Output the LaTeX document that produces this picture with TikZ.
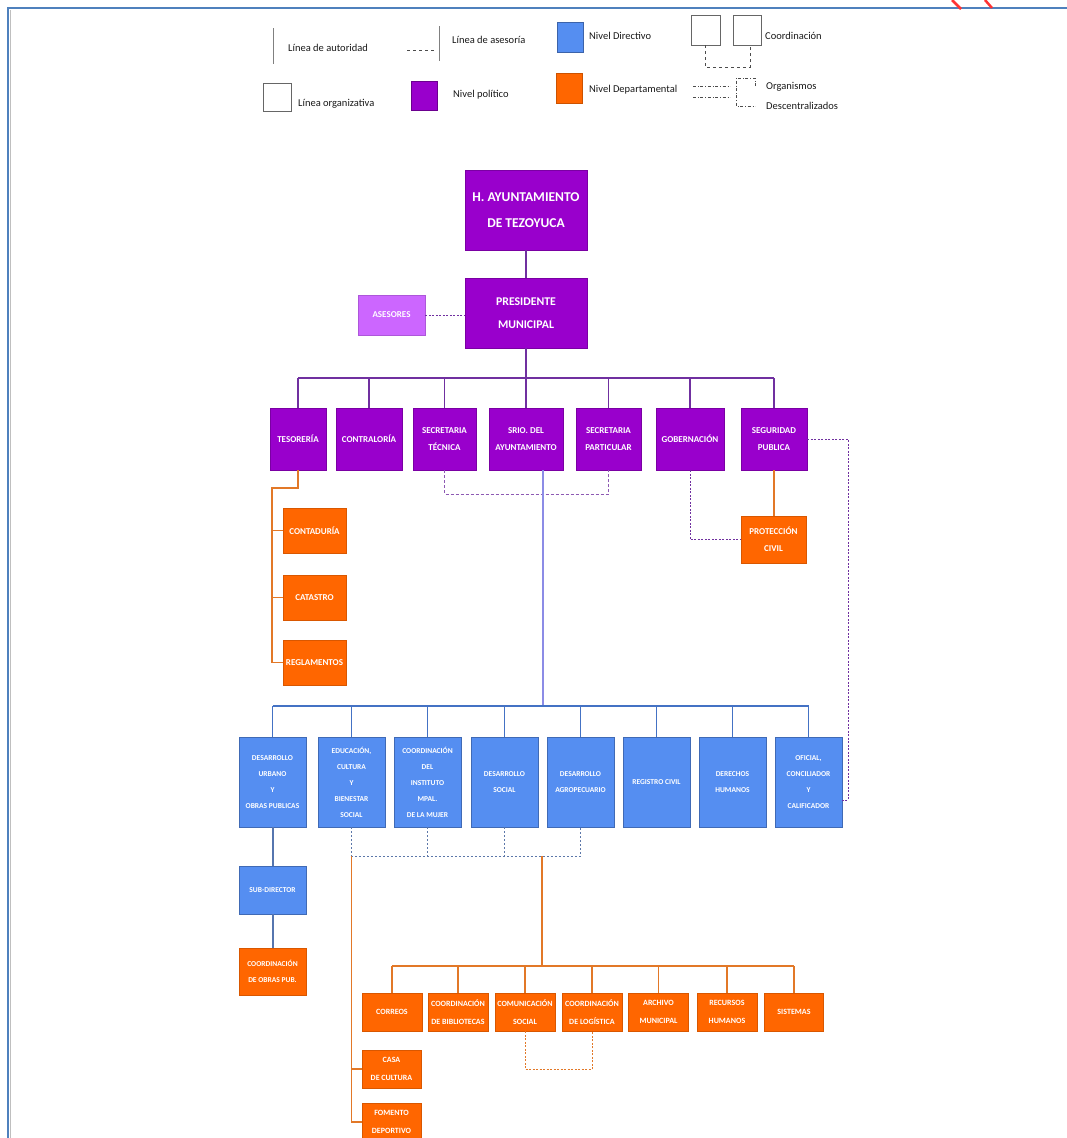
\documentclass[tikz,border=0pt]{standalone}
\usepackage{fontspec}
\setmainfont{Carlito}
\usetikzlibrary{calc}

\definecolor{polcol}{RGB}{153,0,204}
\definecolor{asecol}{RGB}{204,102,255}
\definecolor{dircol}{RGB}{85,142,241}
\definecolor{depcol}{RGB}{255,102,0}
\definecolor{polline}{RGB}{112,48,160}
\definecolor{srioline}{RGB}{140,140,230}
\definecolor{dirline}{RGB}{68,114,196}
\definecolor{depline}{RGB}{226,120,40}
\definecolor{marco}{RGB}{79,129,189}

\begin{document}
\begin{tikzpicture}[x=1pt, y=-1pt,
box/.style={text=white, align=center, inner sep=1pt, line width=.6pt},
polbox/.style={box, fill=polcol, draw=polcol!80!black},
asebox/.style={box, fill=asecol, draw=asecol!85!black},
dirbox/.style={box, fill=dircol, draw=dircol!75!black},
depbox/.style={box, fill=depcol, draw=depcol!85!black},
autpol/.style={draw=polline, line width=1.2pt},
autdir/.style={draw=dirline, line width=1.2pt},
autdep/.style={draw=depline, line width=1.2pt},
asepol/.style={draw=polline, line width=.9pt, dash pattern=on 2pt off 1.5pt},
coordpol/.style={draw=polline!80, line width=1pt, dash pattern=on 3pt off 2pt},
coorddir/.style={draw=dirline!60!gray, line width=.8pt, dash pattern=on 2pt off 2pt},
coorddep/.style={draw=depline, line width=.8pt, dash pattern=on 2pt off 1.5pt},
leyenda/.style={anchor=west, inner sep=0pt, font=\fontsize{10.5}{12}\selectfont, text=black!90}]

\useasboundingbox (0,0) rectangle (1066,1138);

%%%%%% MARCO %%%%%%%%%%

\draw[black!25, line width=.8pt] (10.8,10) -- (10.8,1140);
\draw[marco, line width=2.5pt] (8,1140) -- (8,8) -- (1068,8);
\draw[red!80!white, line width=2.5pt] (952,0) -- (961,9);
\draw[red!80!white, line width=2.5pt] (985,0) -- (992,8);

%%%%%% LEYENDA %%%%%%%%%%

\draw[gray, line width=.8pt] (273,28) -- (273,64);
\node[leyenda] (lautor) at (288,48) {Línea de autoridad};

\draw[black!70, dashed] (407,50) -- (435,50);
\draw[gray, line width=.8pt] (439,26) -- (439,61);
\node[leyenda] (lases) at (452,40) {Línea de asesoría};

\draw[fill=dircol, draw=dircol!70!black] (557,22) rectangle (583,52);
\node[leyenda] (ldir) at (589,36) {Nivel Directivo};

\draw[black!60, line width=.8pt] (691,15) rectangle (720,45);
\draw[black!60, line width=.8pt] (733,15) rectangle (761,45);
\draw[black!70, dashed] (705,45) -- (705,67) -- (750,67) -- (750,45);
\node[leyenda] (lcoord) at (765,36) {Coordinación};

\draw[black!60, line width=.8pt] (263,83) rectangle (291,111);
\node[leyenda] (lorgv) at (298,104) {Línea organizativa};

\draw[fill=polcol, draw=polcol!70!black] (411,81) rectangle (437,110);
\node[leyenda] (lpol) at (453,95) {Nivel político};

\draw[fill=depcol, draw=depcol!80!black] (556,73) rectangle (582,103);
\node[leyenda] (ldep) at (589,90) {Nivel Departamental};

\draw[black!70, dash dot] (693,86) -- (730,86);
\draw[black!70, dash dot] (693,97) -- (730,97);
\draw[black!70, dash dot] (755,86) -- (755,78) -- (736,78) -- (736,106) -- (755,106);
\node[leyenda] (lorg1) at (766,87) {Organismos};
\node[leyenda] (lorg2) at (766,106) {Descentralizados};

%%%%%% NIVEL POLITICO %%%%%%%%%%

\node[polbox, minimum width=122pt, minimum height=80pt, font=\bfseries\fontsize{13.5}{26}\selectfont] (ayto) at (526,210) {H. AYUNTAMIENTO\\DE TEZOYUCA};
\node[polbox, minimum width=122pt, minimum height=70pt, font=\bfseries\fontsize{11.8}{23}\selectfont] (pres) at (526,313) {PRESIDENTE\\MUNICIPAL};
\node[asebox, minimum width=67pt, minimum height=40pt, font=\bfseries\fontsize{9}{10}\selectfont] (ases) at (391.5,315) {ASESORES};

\draw[autpol] (ayto.south) -- (pres.north);
\draw[asepol] (ases.east) -- (ases.east -| pres.west);

\begin{scope}[every node/.append style={minimum height=62pt, font=\bfseries\fontsize{9}{17}\selectfont}]
\node[polbox, minimum width=56pt] (teso) at (298,439) {TESORERÍA};
\node[polbox, minimum width=66pt] (contra) at (369,439) {CONTRALORÍA};
\node[polbox, minimum width=63pt] (stec) at (444.5,439) {SECRETARIA\\TÉCNICA};
\node[polbox, minimum width=74pt] (srio) at (526,439) {SRIO. DEL\\AYUNTAMIENTO};
\node[polbox, minimum width=65pt] (spart) at (608.5,439) {SECRETARIA\\PARTICULAR};
\node[polbox, minimum width=68pt] (gob) at (690,439) {GOBERNACIÓN};
\node[polbox, minimum width=66pt] (segp) at (774,439) {SEGURIDAD\\PUBLICA};
\end{scope}

\coordinate (polbus) at (526,378);
\draw[autpol] (pres.south) -- (polbus);
\draw[autpol, line width=2pt] (teso.north |- polbus) -- (segp.north |- polbus);
\foreach \n in {teso,contra,stec,srio,spart,gob,segp}{\draw[autpol] (\n.north) -- (\n.north |- polbus);}

\draw[coordpol] (stec.south) -- ++(0,24) -| (spart.south);

%%%%%% DEPARTAMENTOS DE TESORERIA Y SEGURIDAD %%%%%%%%%%

\begin{scope}[every node/.append style={minimum width=63pt, minimum height=45pt, font=\bfseries\fontsize{9}{17}\selectfont}]
\node[depbox] (conta) at (314.5,530.5) {CONTADURÍA};
\node[depbox] (cata) at (314.5,597.5) {CATASTRO};
\node[depbox] (regl) at (314.5,662.5) {REGLAMENTOS};
\node[depbox, minimum width=65pt, minimum height=47pt] (proc) at (773.5,539.5) {PROTECCIÓN\\CIVIL};
\end{scope}

\coordinate (tesoL) at (272,488);
\draw[autdep] (teso.south) |- (tesoL) |- (regl.west);
\foreach \n in {conta,cata}{\draw[autdep] (tesoL |- \n.west) -- (\n.west);}

\draw[autdep] (segp.south) -- (segp.south |- proc.north);
\draw[asepol] (gob.south) |- (proc.west);

%%%%%% NIVEL DIRECTIVO %%%%%%%%%%

\begin{scope}[every node/.append style={minimum width=67pt, minimum height=90pt, font=\bfseries\fontsize{7.5}{16}\selectfont}]
\node[dirbox] (dup) at (272.5,782) {DESARROLLO\\URBANO\\Y\\OBRAS PUBLICAS};
\node[dirbox] (ecb) at (351.5,782) {EDUCACIÓN,\\CULTURA\\Y\\BIENESTAR\\SOCIAL};
\node[dirbox] (imm) at (427.5,782) {COORDINACIÓN\\DEL\\INSTITUTO\\MPAL.\\DE LA MUJER};
\node[dirbox] (dso) at (504.5,782) {DESARROLLO\\SOCIAL};
\node[dirbox] (dag) at (580.5,782) {DESARROLLO\\AGROPECUARIO};
\node[dirbox] (rci) at (656.5,782) {REGISTRO CIVIL};
\node[dirbox] (dhu) at (732.5,782) {DERECHOS\\HUMANOS};
\node[dirbox] (occ) at (808.5,782) {OFICIAL,\\CONCILIADOR\\Y\\CALIFICADOR};
\end{scope}

\coordinate (dirbus) at (543,706);
\draw[draw=srioline, line width=1.2pt] (srio.south -| dirbus) -- (dirbus);
\draw[autdir, line width=2.2pt] (dup.north |- dirbus) -- (occ.north |- dirbus);
\foreach \n in {dup,ecb,imm,dso,dag,rci,dhu,occ}{\draw[autdir] (\n.north) -- (\n.north |- dirbus);}

\coordinate (segR) at (848,800);
\draw[asepol] (segp.east) -| (segR) -- (segR -| occ.east);

\node[dirbox, minimum width=67pt, minimum height=48pt, font=\bfseries\fontsize{7.5}{16}\selectfont] (subd) at (272.5,890) {SUB-DIRECTOR};
\node[depbox, minimum width=67pt, minimum height=47pt, font=\bfseries\fontsize{7.5}{16}\selectfont] (cop) at (272.5,971.5) {COORDINACIÓN\\DE OBRAS PUB.};

\draw[autdir, draw=dirline!70!gray, line width=2pt] (dup.south) -- (subd.north);
\draw[autdir, draw=dirline!70!gray, line width=2pt] (subd.south) -- (cop.north);

\coordinate (cobus) at (542,856);
\draw[coorddir] (ecb.south) |- (dag.south |- cobus) -- (dag.south);
\foreach \n in {imm,dso}{\draw[coorddir] (\n.south) -- (\n.south |- cobus);}

%%%%%% NIVEL DEPARTAMENTAL %%%%%%%%%%

\begin{scope}[every node/.append style={minimum height=38pt, font=\bfseries\fontsize{8}{18}\selectfont}]
\node[depbox, minimum width=60pt] (corr) at (392,1012) {CORREOS};
\node[depbox, minimum width=60pt] (bibl) at (458,1012) {COORDINACIÓN\\DE BIBLIOTECAS};
\node[depbox, minimum width=60pt] (csoc) at (525,1012) {COMUNICACIÓN\\SOCIAL};
\node[depbox, minimum width=60pt] (logi) at (592,1012) {COORDINACIÓN\\DE LOGÍSTICA};
\node[depbox, minimum width=60pt] (arch) at (658.5,1012) {ARCHIVO\\MUNICIPAL};
\node[depbox, minimum width=60pt] (rhum) at (727,1012) {RECURSOS\\HUMANOS};
\node[depbox, minimum width=59pt] (sist) at (794,1012) {SISTEMAS};
\node[depbox, minimum width=59pt] (casa) at (391.5,1069) {CASA\\DE CULTURA};
\node[depbox, minimum width=59pt] (fom) at (391.5,1122) {FOMENTO\\DEPORTIVO};
\end{scope}

\coordinate (depbus) at (542,966);
\draw[autdep] (cobus) -- (depbus);
\draw[autdep] (corr.north |- depbus) -- (sist.north |- depbus);
\foreach \n in {corr,bibl,csoc,logi,arch,rhum,sist}{\draw[autdep] (\n.north) -- (\n.north |- depbus);}

\draw[autdep] (ecb.south |- cobus) |- (fom.west);
\draw[autdep] (ecb.south |- casa.west) -- (casa.west);

\draw[coorddep] (csoc.south) -- ++(0,38) -| (logi.south);

\end{tikzpicture}
\end{document}
